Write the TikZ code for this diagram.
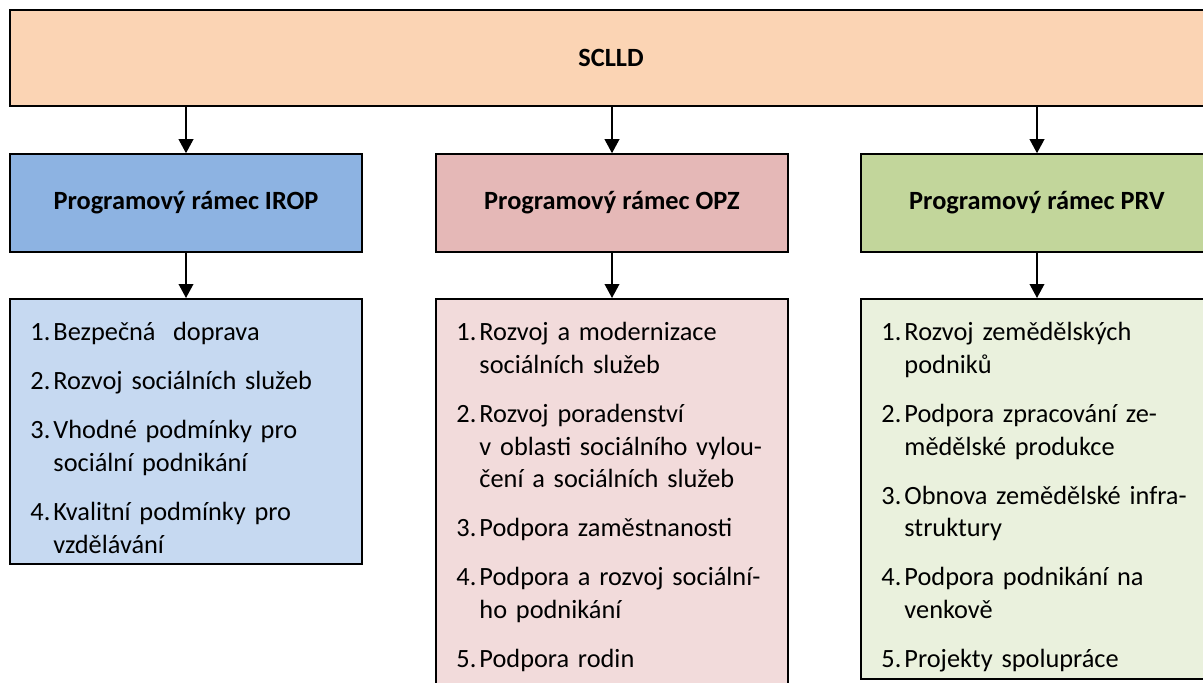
\documentclass[tikz,border=0pt]{standalone}
\usepackage{fontspec}
\setmainfont{Carlito}
\usepackage{enumitem}
\usetikzlibrary{arrows.meta,positioning}

\definecolor{sclld}{HTML}{FBD4B4}
\definecolor{irop}{HTML}{8DB3E2}
\definecolor{iropsv}{HTML}{C6D9F1}
\definecolor{opz}{HTML}{E5B8B7}
\definecolor{opzsv}{HTML}{F2DBDB}
\definecolor{prv}{HTML}{C2D69B}
\definecolor{prvsv}{HTML}{EAF1DD}

\setlist[enumerate]{label=\arabic*.,leftmargin=17.25pt,labelwidth=17.25pt,labelsep=0pt,align=left,
  topsep=0pt,partopsep=0pt,parsep=0pt,itemsep=12.25pt}

\begin{document}
\begin{tikzpicture}[x=0.75pt,y=-0.75pt,
    ramec/.style={draw=black,line width=1.2pt,minimum width=264pt,minimum height=73.5pt,
      font=\fontsize{19.75}{23}\selectfont\bfseries},
    telo/.style={draw=black,line width=1.2pt,minimum width=264pt,anchor=north},
    seznam/.style={anchor=north west,inner sep=0pt,text width=240pt,align=left,
      font=\fontsize{19.75}{24.5}\selectfont},
    sipka/.style={-{Triangle[width=11pt,length=10.5pt]},line width=1.2pt}]
    \useasboundingbox (0,0) rectangle (1203,682);

    \node[ramec,fill=sclld,minimum width=901.5pt,minimum height=72pt] (sclld) at (611,58) {SCLLD};

    \node[ramec,fill=irop] (irop) at (186,203) {Programový rámec IROP};
    \node[ramec,fill=opz] (opz) at (612,203) {Programový rámec OPZ};
    \node[ramec,fill=prv] (prv) at (1037,203) {Programový rámec PRV};

    \node[telo,fill=iropsv,minimum height=198.75pt] (irop-body) at (186,298) {};
    \node[telo,fill=opzsv,minimum height=300pt] (opz-body) at (612,298) {};
    \node[telo,fill=prvsv,minimum height=285pt] (prv-body) at (1037,298) {};

    \draw[sipka] (sclld.south -| irop.north) -- (irop.north);
    \draw[sipka] (sclld.south -| opz.north) -- (opz.north);
    \draw[sipka] (sclld.south -| prv.north) -- (prv.north);
    \draw[sipka] (irop.south) -- (irop-body.north);
    \draw[sipka] (opz.south) -- (opz-body.north);
    \draw[sipka] (prv.south) -- (prv-body.north);

    % seznamy opatreni
    \node[seznam] (irop-list) at ([xshift=15.75pt,yshift=-7.5pt]irop-body.north west) {%
      \begin{enumerate}
        \item Bezpečná\ \ doprava
        \item Rozvoj sociálních služeb
        \item Vhodné podmínky pro\newline sociální podnikání
        \item Kvalitní podmínky pro\newline vzdělávání
      \end{enumerate}};
    \node[seznam] (opz-list) at ([xshift=15.75pt,yshift=-7.5pt]opz-body.north west) {%
      \begin{enumerate}
        \item Rozvoj a modernizace\newline sociálních služeb
        \item Rozvoj poradenství\newline v oblasti sociálního vylou-\newline čení a sociálních služeb
        \item Podpora zaměstnanosti
        \item Podpora a rozvoj sociální-\newline ho podnikání
        \item Podpora rodin
      \end{enumerate}};
    \node[seznam] (prv-list) at ([xshift=15.75pt,yshift=-7.5pt]prv-body.north west) {%
      \begin{enumerate}
        \item Rozvoj zemědělských\newline podniků
        \item Podpora zpracování ze-\newline mědělské produkce
        \item Obnova zemědělské infra-\newline struktury
        \item Podpora podnikání na\newline venkově
        \item Projekty spolupráce
      \end{enumerate}};
\end{tikzpicture}
\end{document}
